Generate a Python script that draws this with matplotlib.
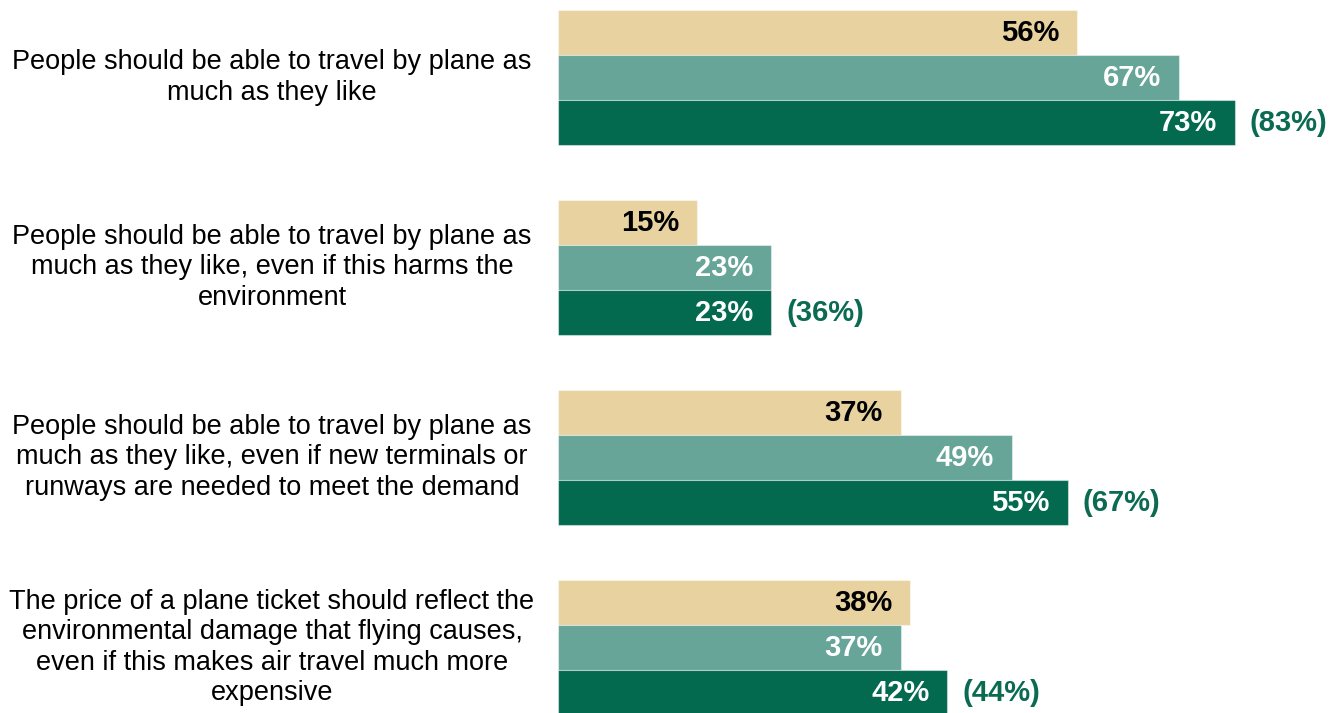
import matplotlib
matplotlib.use("Agg")
import matplotlib.pyplot as plt
import numpy as np

plt.rcParams['font.family'] = ['Liberation Sans', 'DejaVu Sans']

statements = [
    "People should be able to travel by plane as\nmuch as they like",
    "People should be able to travel by plane as\nmuch as they like, even if this harms the\nenvironment",
    "People should be able to travel by plane as\nmuch as they like, even if new terminals or\nrunways are needed to meet the demand",
    "The price of a plane ticket should reflect the\nenvironmental damage that flying causes,\neven if this makes air travel much more\nexpensive",
]
series_a = [56, 15, 37, 38]
series_b = [67, 23, 49, 37]
series_c = [73, 23, 55, 42]
series_c_alt = [83, 36, 67, 44]

colors = ["#E8D2A0", "#66A598", "#036A50"]
label_colors = ["black", "white", "white"]
alt_color = "#0B6B52"

W, H = 1344, 713
fig = plt.figure(figsize=(W / 100, H / 100), dpi=100)
ax = fig.add_axes([558 / W, 0, (W - 558) / W, 1])

px_per_unit = 190.0
bar_h = 45 / px_per_unit
px_per_pct = 9.27
ax.set_xlim(0, (W - 558) / px_per_pct)
ax.set_ylim((713 - 77.5) / px_per_unit, -77.5 / px_per_unit)
ax.axis("off")

series = [series_a, series_b, series_c]
offsets = [-bar_h, 0, bar_h]
pad = 18 / px_per_pct
for s, vals in enumerate(series):
    for i, v in enumerate(vals):
        y = i + offsets[s]
        ax.barh(y, v, height=bar_h, color=colors[s],
                edgecolor=(1, 1, 1, 0.45), linewidth=0.8)
        ax.text(v - pad, y + 0.005, f"{v}%", ha="right", va="center",
                fontsize=21, fontweight="bold", color=label_colors[s])

for i, (v, alt) in enumerate(zip(series_c, series_c_alt)):
    ax.text(v + 15 / px_per_pct, i + bar_h + 0.005, f"({alt}%)", ha="left",
            va="center", fontsize=21, fontweight="bold", color=alt_color)

for i, text in enumerate(statements):
    y_fig = 1 - (77.5 + 190 * i) / H
    fig.text(272 / W, y_fig, text, ha="center", va="center",
             fontsize=19.5, linespacing=1.22, color="black")

fig.savefig("out.png", dpi=100)
